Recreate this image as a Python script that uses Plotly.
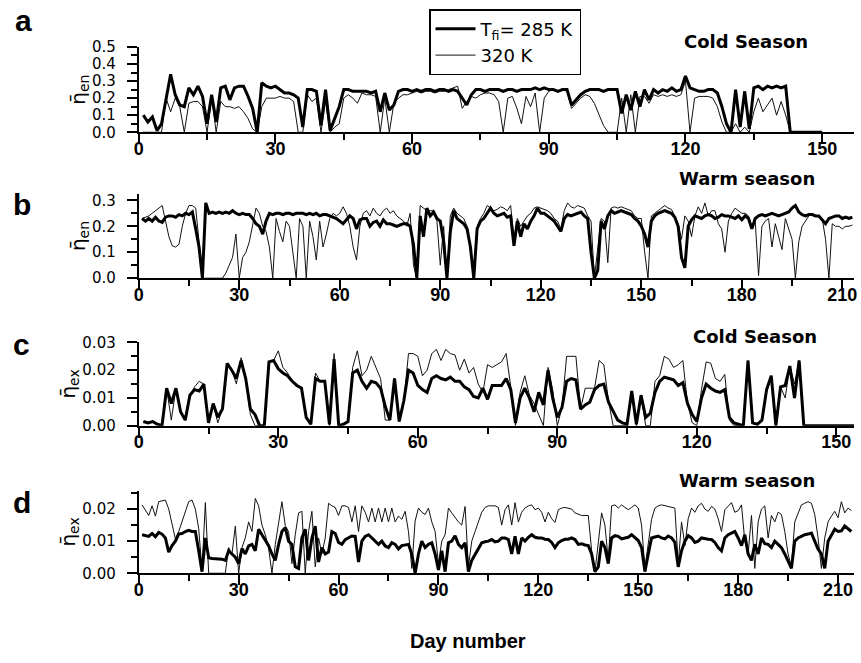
import plotly.graph_objects as go

# ---------------- data (daily values) ----------------
a_285 = [.10,.06,.09,.01,.05,.20,.34,.22,.16,.15,
         .26,.22,.27,.21,.05,.22,.06,.26,.27,.19,
         .26,.27,.27,.21,.14,.00,.29,.27,.26,.27,
         .25,.23,.23,.22,.20,.03,.25,.25,.24,.04,
         .25,.01,.08,.15,.25,.25,.24,.24,.24,.24,
         .23,.24,.12,.23,.13,.16,.24,.25,.25,.24,
         .25,.24,.25,.25,.24,.25,.25,.24,.25,.24,
         .20,.16,.22,.25,.25,.24,.25,.25,.25,.24,
         .25,.25,.24,.25,.25,.25,.26,.25,.26,.25,
         .25,.24,.25,.25,.16,.19,.22,.24,.25,.25,
         .25,.24,.25,.25,.25,.11,.22,.13,.24,.15,
         .25,.19,.25,.23,.25,.24,.26,.24,.25,.33,
         .26,.25,.24,.24,.25,.25,.23,.15,.05,.00,
         .25,.03,.24,.02,.26,.27,.25,.27,.26,.27,
         .26,.27,.00,0,0,0,0,0,0,0]
a_320 = [0,0,0,0,0,.20,.12,.20,.15,0,
         .17,.18,.18,.15,0,.20,0,.18,.15,.15,
         .14,.15,.12,.08,.02,0,.15,.20,.20,.20,
         .21,.20,.20,.18,0,0,.22,.18,.20,0,
         .18,0,.03,.05,.20,.22,.20,.17,.23,.22,
         .22,.21,0,.20,0,.17,.20,.22,.22,.23,
         .24,.23,.24,.24,.23,.24,.24,.25,.26,.27,
         .14,.18,.21,.20,.22,.23,.23,.22,.18,0,
         .20,.21,.14,.05,.21,.15,.23,0,.20,.24,
         .25,.24,.25,.24,.14,.17,.20,.22,.21,.17,
         .10,.04,0,0,0,.20,0,.22,0,.21,
         .21,.17,.22,.21,.22,.21,.22,.21,.22,.30,
         0,.20,.21,.21,.21,.20,.15,.06,0,0,
         .05,0,.03,0,.12,.20,.12,.16,.20,.10,
         .18,.10,0,0,0,0,0,0,0,0]

b_285 = [.23,.22,.23,.22,.235,.22,.215,.235,.24,.24,
         .235,.245,.24,.25,.245,.255,.19,.12,0,.29,
         .25,.255,.25,.255,.25,.255,.25,.26,.25,.245,
         .25,.245,.245,.23,.21,.2,.17,.22,.25,.245,
         .25,.25,.245,.25,.25,.245,.25,.25,.25,.245,
         .25,.245,.25,.24,.245,.245,.24,.235,.23,.22,
         .21,.225,.24,.23,.19,.225,.23,.23,.2,.215,
         .22,.2,.225,.21,.21,.205,.2,.205,.21,.21,
         .2,.13,0,.24,.16,.27,.24,.255,.23,.22,
         .14,0,.18,.26,.23,.22,.21,.19,.12,0,
         .19,.22,.23,.25,.27,.25,.24,.245,.25,.235,
         .24,.125,.22,.16,.21,.19,.22,.24,.27,.25,
         .25,.24,.23,.22,.2,.18,.23,.245,.24,.245,
         .25,.255,.24,.23,.1,0,.03,.22,.19,.24,
         .26,.25,.255,.26,.255,.25,.245,.23,.22,.2,
         .17,.12,.22,.24,.25,.255,.26,.255,.25,.235,
         .2,.08,.04,.2,.225,.24,.235,.23,.24,.245,
         .24,.23,.235,.245,.24,.24,.235,.23,.24,.225,
         .24,.23,.19,.23,.24,.245,.24,.245,.25,.245,
         .24,.245,.25,.255,.27,.28,.255,.245,.24,.245,
         .245,.24,.24,.225,.21,.23,.235,.24,.24,.23,
         .235,.23,.235]
b_320 = [.23,.235,.24,.25,.26,.27,.28,.22,.16,.125,
         .12,.13,.2,.25,.28,.28,.27,.14,0,0,
         0,0,0,0,0,.02,.05,.08,.17,0,
         .08,.1,.14,.2,.27,.25,.2,.18,.12,0,
         .23,.18,.14,.22,.2,.1,0,.23,.2,0,
         .22,.16,.07,.22,.12,.17,.23,.25,.24,.25,
         .275,.25,.2,.12,.07,.2,.25,.26,.24,.27,
         .25,.24,.26,.27,.25,.26,.24,.23,.22,.2,
         .25,.05,0,.28,.27,.26,.26,.26,.22,.05,
         .2,0,.24,.27,.25,.24,.23,.2,.12,0,
         .2,.23,.25,.28,.27,.26,.265,.275,.27,.26,
         .28,.15,.23,.2,.22,.24,.25,.27,.275,.27,
         .265,.26,.25,.23,.22,.19,.26,.29,.275,.27,
         .28,.275,.27,.24,.22,0,.12,.23,.22,.06,
         .27,.275,.27,.275,.27,.265,.26,.24,.23,.23,
         .1,0,.24,.25,.26,.27,.28,.27,.265,.24,
         .21,.15,.24,.22,.16,.24,.275,.25,.29,.24,
         .26,.26,.21,.19,.1,.22,.25,.27,.26,.25,
         .25,.24,.2,.22,.01,.2,.22,.23,.12,.21,
         .16,.11,.23,.19,.15,0,.14,.2,.22,.24,
         .25,.24,.235,.23,.15,0,.21,.2,.2,.19,
         .2,.2,.205]

c_285 = [.0015,.001,.0015,.0005,0,.0135,.008,.0135,.005,.002,
         .011,.013,.0125,.015,.001,.008,.003,.006,.0225,.02,
         .017,.0235,.017,.006,.004,0,0,.023,.0235,.0205,
         .019,.018,.016,.0145,.0135,.003,.0005,.017,.016,.016,
         .0005,.024,0,.0005,.0015,.019,.02,.016,.0135,.016,
         .0155,.0135,.007,.002,.017,.0015,.009,.02,.019,.0145,
         .013,.012,.017,.018,.017,.0165,.0175,.016,.016,.014,
         .013,.0105,.01,.0135,.0095,.0145,.0145,.0145,.017,.013,
         .001,.01,.0135,.01,.005,.012,.0075,.02,.01,.003,
         .0065,.016,.017,.0165,.006,.0075,.0085,.013,.0145,.015,
         .0085,.005,.002,.001,.0005,.0125,.0005,.011,.003,.0045,
         .012,.016,.0175,.017,.0165,.0145,.0155,.008,.004,.0015,
         .01,.015,.0135,.0125,.012,.013,.003,.001,.0005,0,
         .0235,.001,.0005,.002,.013,.018,0,.014,.0145,.0215,
         .01,.0235,0,0,0,0,0,0,0,0,
         0,0,0,0]
c_320 = [.0015,.001,.0015,.0005,0,.0135,.002,.0135,.005,.002,
         .011,.014,.016,.015,.001,.008,.001,.006,.0225,.02,
         .015,.0245,.017,.004,0,0,0,.023,.0235,.027,
         .021,.019,.016,.0145,.0135,.003,.0005,.019,.016,.016,
         0,.026,0,.0005,.0015,.021,.027,.018,.02,.025,
         .021,.017,.002,.002,.017,.0015,.009,.026,.026,.025,
         .018,.02,.026,.0275,.0235,.0275,.026,.0255,.02,.024,
         .019,.021,.015,.012,.022,.021,.022,.023,.026,.014,
         0,.012,.018,.011,.008,.004,0,.021,.013,0,
         .0065,.025,.025,.025,.006,.0135,.0135,.0135,.0235,.022,
         .009,0,0,0,0,.0125,0,.011,0,0,
         .016,.018,.025,.024,.021,.022,.0235,.008,.001,0,
         .013,.023,.0225,.017,.016,.0185,.002,0,0,0,
         .0235,.001,.0005,.002,.012,.0175,0,.014,.01,.0215,
         .015,.0235,0,0,0,0,0,0,0,0,
         0,0,0,0]

d_285 = [.012,.0118,.0115,.0124,.0114,.0127,.0122,.011,.0066,.0086,
         .01,.0122,.0124,.013,.0134,.013,.013,.007,.0005,.011,
         .0048,.0046,.0046,.0045,.0044,.004,.007,.006,.005,.003,
         .0077,.006,.0085,.009,.007,.0137,.012,.01,.0086,.006,
         .004,.009,.013,.0142,.01,.009,.002,.0015,.011,.0137,
         .004,.011,.0147,.0035,.008,.006,.0066,.013,.0124,.0096,
         .009,.0105,.011,.0116,.0115,.0035,.01,.0115,.012,.011,
         .01,.009,.01,.0085,.008,.0095,.009,.0076,.0086,.0088,
         .009,.006,0,.006,.01,.008,.009,.0095,.006,.001,
         .007,.0005,.0095,.01,.0117,.009,.008,.0095,.0005,.004,
         .006,.0075,.0095,.0098,.01,.0105,.0098,.01,.011,.011,
         .0105,.006,.0115,.006,.011,.01,.0112,.012,.0112,.011,
         .011,.0106,.0105,.0096,.008,.0095,.0102,.0106,.0106,.011,
         .0105,.009,.0092,.0088,.0086,.006,.0005,.002,.01,.008,
         .003,.011,.0117,.0115,.0107,.011,.0112,.012,.011,.0102,
         .008,.0005,.006,.011,.0113,.0116,.011,.0107,.0116,.011,
         .0096,.002,.007,.01,.0117,.011,.0096,.01,.011,.0107,
         .0106,.0105,.0096,.008,.007,.011,.012,.0125,.013,.011,
         .0086,.012,.006,.004,.009,.006,.011,.0092,.009,.008,
         .01,.009,.008,.006,.004,.0015,.01,.011,.0115,.012,
         .0122,.0125,.01,.0075,.006,.0015,.01,.012,.0137,.013,
         .0132,.0147,.0137,.013]
d_320 = [.0213,.0195,.018,.021,.0178,.0223,.0225,.0228,.02,.015,
         .0107,.013,.016,.019,.0223,.0228,.02,.014,.001,.022,
         0,0,0,0,0,0,.008,.006,.0147,0,
         .008,.011,.016,.013,.0233,.021,.015,.012,.0078,0,
         .009,.016,.0223,.0148,.013,.003,.012,.0188,.0193,0,
         .013,.0193,.002,.011,.006,.011,.0218,.021,.0205,.018,
         .021,.021,.0205,.016,.021,.013,.021,.019,.016,.0203,
         .016,.0203,.016,.0203,.016,.0203,.016,.0178,.0168,.0193,
         .013,.0015,.0163,.0203,.019,.0183,.0203,.016,.013,.003,
         .01,.012,.0203,.0188,.0173,.016,.015,.0208,.002,.01,
         .013,.016,.019,.0205,.021,.021,.021,.0205,.015,.0198,
         .0213,.015,.022,.016,.019,.0203,.021,.0213,.0198,.0203,
         .019,.016,.019,.017,.0158,.0198,.0203,.0205,.0203,.02,
         .0188,.0185,.018,.018,.018,.007,.0005,.0095,.0188,.015,
         .004,.021,.0213,.0203,.0213,.0205,.0198,.0205,.0213,.0203,
         .015,.0015,.009,.0168,.0203,.021,.0213,.021,.0208,.0205,
         .0203,.003,.016,.0086,.017,.0203,.019,.021,.0218,.02,
         .0193,.0208,.02,.017,.013,.0198,.021,.022,.019,.0195,
         .0213,.01,.006,.018,.0015,.016,.02,.021,.011,.018,
         .016,.019,.0183,.013,.006,.002,.016,.0188,.0213,.0218,
         .0223,.0218,.0183,.011,.0015,.011,.016,.0178,.0193,.0173,
         .0223,.0188,.0203,.0195]

series_names = ["T<sub>fi</sub>= 285 K", "320 K"]
panel_letters = ["a", "b", "c", "d"]
season_labels = ["Cold Season", "Warm season", "Cold Season", "Warm season"]
y_titles = ["η̄<sub>en</sub>", "η̄<sub>en</sub>", "η̄<sub>ex</sub>", "η̄<sub>ex</sub>"]
x_title = "Day number"

# ---------------- layout helpers ----------------
W, H = 861, 663
def px_x(p): return p / W
def px_y(p): return 1 - p / H

x_dom = [px_x(135), px_x(857)]
panels = [
    dict(y1=a_285, y2=a_320, xr=[0, 157.0], yr=[0, 0.5], ydt=0.1, ymin=0.05, fmt=".1f",
         ypix=(39, 126.7), letter_xy=(19, 12), season_xy=(748, 33)),
    dict(y1=b_285, y2=b_320, xr=[0, 213.5], yr=[0, 0.325], ydt=0.1, ymin=0.05, fmt=".1f",
         ypix=(190, 276.7), letter_xy=(17, 201), season_xy=(749, 174)),
    dict(y1=c_285, y2=c_320, xr=[0, 153.8], yr=[0, 0.0301], ydt=0.01, ymin=0.005, fmt=".2f",
         ypix=(342.5, 428.3), letter_xy=(17, 345), season_xy=(757, 337)),
    dict(y1=d_285, y2=d_320, xr=[0, 214.8], yr=[0, 0.02576], ydt=0.01, ymin=0.005, fmt=".2f",
         ypix=(495, 580), letter_xy=(17, 507), season_xy=(749, 485)),
]

XFONT = dict(family="Liberation Sans Narrow, Arial Narrow, Liberation Sans, Arial", size=18,
             color="black", weight="bold")
YFONT = dict(family="DejaVu Sans, Verdana, sans-serif", size=15, color="black")

fig = go.Figure()
annotations = []
for i, p in enumerate(panels):
    k = "" if i == 0 else str(i + 1)
    days1 = list(range(1, len(p["y1"]) + 1))
    days2 = list(range(1, len(p["y2"]) + 1))
    fig.add_trace(go.Scatter(x=days2, y=p["y2"], mode="lines", name=series_names[1],
                             line=dict(color="#111111", width=1),
                             xaxis="x" + k, yaxis="y" + k, showlegend=(i == 0),
                             legendrank=2))
    fig.add_trace(go.Scatter(x=days1, y=p["y1"], mode="lines", name=series_names[0],
                             line=dict(color="black", width=3),
                             xaxis="x" + k, yaxis="y" + k, showlegend=(i == 0),
                             legendrank=1))

    fig.layout["xaxis" + k] = dict(
        domain=x_dom, anchor="y" + k, range=p["xr"], showline=True, linecolor="black",
        linewidth=2, ticks="outside", ticklen=10, tickwidth=2, tickcolor="black",
        tick0=0, dtick=30, tickfont=XFONT, showgrid=False, zeroline=False,
        ticklabelstandoff=-11,
        minor=dict(ticks="outside", ticklen=6, tickwidth=2, tickcolor="black", dtick=15,
                   tick0=0, showgrid=False),
    )
    y0, y1 = p["ypix"]
    fig.layout["yaxis" + k] = dict(
        domain=[px_y(y1), px_y(y0)], anchor="x" + k, range=p["yr"], showline=True,
        linecolor="black", linewidth=2, ticks="outside", ticklen=10, tickwidth=2,
        tickcolor="black", tick0=0, dtick=p["ydt"], tickformat=p["fmt"], tickfont=YFONT,
        showgrid=False, zeroline=False, ticklabelstandoff=8,
        minor=dict(ticks="outside", ticklen=6, tickwidth=2, tickcolor="black",
                   dtick=p["ymin"], tick0=0, showgrid=False),
        title=dict(text=y_titles[i], font=dict(family="DejaVu Sans", size=20, color="black"),
                   standoff=1),
    )
    lx, ly = p["letter_xy"]
    annotations.append(dict(text="<b>" + panel_letters[i] + "</b>", xref="paper", yref="paper",
                            x=px_x(lx), y=px_y(ly), showarrow=False, xanchor="center",
                            yanchor="middle",
                            font=dict(family="Liberation Sans, Arial", size=30, color="black")))
    sx, sy = p["season_xy"]
    annotations.append(dict(text="<b>" + season_labels[i] + "</b>", xref="paper", yref="paper",
                            x=px_x(sx), y=px_y(sy), showarrow=False, xanchor="center",
                            yanchor="middle",
                            font=dict(family="DejaVu Sans", size=18, color="black")))

# shared x-axis title, centred where the reference prints it
annotations.append(dict(text="<b>" + x_title + "</b>", xref="paper", yref="paper",
                        x=px_x(467), y=px_y(650), showarrow=False, xanchor="center",
                        yanchor="middle",
                        font=dict(family="Liberation Sans, Arial", size=20, color="black")))

fig.update_layout(
    width=W, height=H, margin=dict(l=0, r=0, t=0, b=0),
    paper_bgcolor="white", plot_bgcolor="white",
    annotations=annotations,
    showlegend=True,
    legend=dict(x=px_x(428), y=px_y(0), xanchor="left", yanchor="top",
                bordercolor="black", borderwidth=1.5, bgcolor="white",
                font=dict(family="DejaVu Sans", size=18, color="black"),
                traceorder="normal", tracegroupgap=0, itemwidth=40),
)

fig.write_html("out.html", config={"displayModeBar": False},
               post_script="document.body.style.margin='0';")
